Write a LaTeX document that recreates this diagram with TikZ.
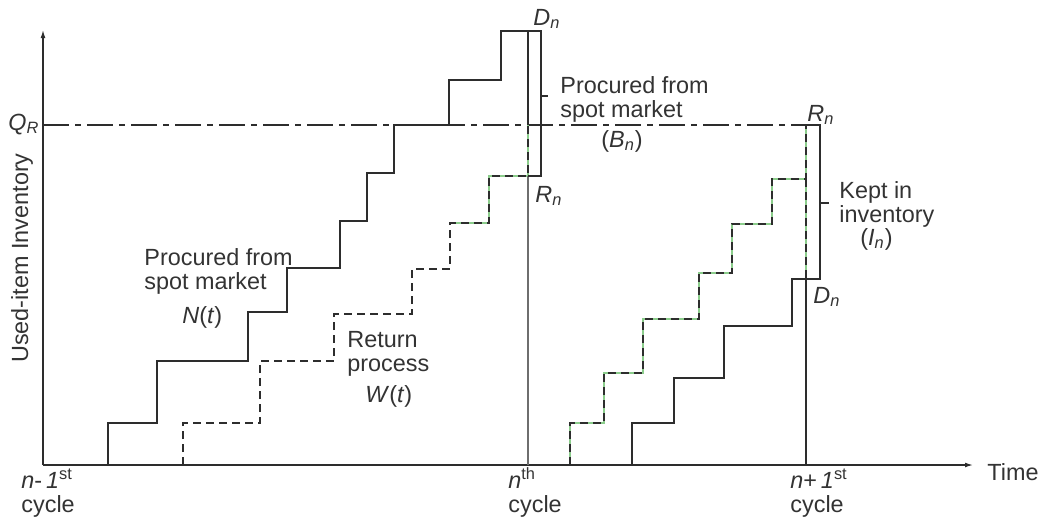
\documentclass[tikz,border=0pt]{standalone}
\usepackage{fontspec}
\setmainfont{Liberation Sans}
\usepackage{tikz}
\usetikzlibrary{arrows.meta}

\definecolor{txtgray}{RGB}{51,51,51}
\definecolor{linegray}{RGB}{45,45,45}
\definecolor{cyclegray}{RGB}{110,110,110}
\definecolor{retgreen}{RGB}{140,205,140}
\newcommand{\isub}[2]{\textit{#1}\textsubscript{\textit{#2}}}

\begin{document}
\begin{tikzpicture}[x=0.5pt,y=-0.5pt,>={Latex[length=4pt,width=2.4pt]},
    lbl/.style={text=txtgray,font=\fontsize{11.7}{12}\selectfont,inner sep=0pt,anchor=base west},
    stair/.style={draw=linegray,line width=0.6pt},
    retstair/.style={draw=linegray,line width=0.6pt,dash pattern=on 4pt off 2.5pt},
    greenback/.style={draw=retgreen,line width=0.6pt},
    qrline/.style={draw=linegray,line width=0.6pt,dash pattern=on 13pt off 3pt on 3pt off 3pt}]
          \useasboundingbox (0,0) rectangle (1043,527);
          % axes
          \coordinate (O) at (43,465);
          \coordinate (ytop) at (43,30);
          \coordinate (xend) at (973,465);
          \draw[->,linegray,line width=0.6pt] (O) -- (ytop);
          \draw[->,linegray,line width=0.6pt] (O) -- (xend);
          \node[lbl] (time) at (987,480) {Time};
          \node[lbl,rotate=90,anchor=center] (ylab) at (22,258) {Used-item Inventory};
          % reorder level
          \coordinate (qrL) at (43,125);
          \coordinate (qrR) at (806,125);
          \draw[qrline] (qrL) -- (qrR);
          \node[lbl] (qr) at (8,130) {\isub{Q}{R}};
          % cycle n-1 to n
          \draw[stair] (108,465) |- (157,423) |- (248,361) |- (287,312) |- (340,268)
            |- (367,221) |- (394,173) |- (449,125) |- (501,80) |- (528,31) -- (528,125);
          \draw[greenback] (450,223) -- (489,223) |- (528,176) -- (528,125);
          \draw[retstair] (183,465) |- (260,423) |- (334,361) |- (412,314) |- (450,269)
            |- (489,223) |- (528,176) -- (528,125);
          \coordinate (nth) at (528,465);
          \draw[cyclegray,line width=0.6pt] (528,176) -- (nth);
          \draw[linegray,line width=0.6pt] (528,31) -- (541,31) -- (541,176) -- (528,176)
            (541,96) -- (548,96);
          \node[lbl] (dtop) at (533,25) {\isub{D}{n}};
          \node[lbl,align=left] (procB) at (560,117) {Procured from\\spot market};
          \node[lbl] (bn) at (601,147) {(\isub{B}{n})};
          \node[lbl] (rleft) at (535,202) {\isub{R}{n}};
          \node[lbl,align=left] (procN) at (144,289) {Procured from\\spot market};
          \node[lbl] (nt) at (182,323) {\textit{N}(\textit{t})};
          \node[lbl,align=left] (ret) at (347,371) {Return\\process};
          \node[lbl] (wt) at (365,402) {\textit{W}(\textit{t})};
          % cycle n to n+1
          \draw[greenback] (570,465) |- (604,423) |- (643,373) |- (699,319) |- (732,273)
            |- (772,224) |- (806,179) -- (806,125) (806,179) -- (806,279);
          \draw[retstair] (570,465) |- (604,423) |- (643,373) |- (699,319) |- (732,273)
            |- (772,224) |- (806,179) -- (806,125);
          \draw[retstair] (806,179) -- (806,279);
          \draw[stair] (632,465) |- (674,423) |- (724,378) |- (792,326) |- (806,279);
          \coordinate (nnext) at (806,465);
          \draw[linegray,line width=0.6pt] (806,279) -- (nnext);
          \draw[linegray,line width=0.6pt] (806,125) -- (820,125) -- (820,279) -- (806,279)
            (820,203) -- (829,203);
          \node[lbl] (rright) at (807,121) {\isub{R}{n}};
          \node[lbl,align=left] (kept) at (839,222) {Kept in\\inventory};
          \node[lbl] (in) at (860,245) {(\isub{I}{n})};
          \node[lbl] (dbot) at (813,303) {\isub{D}{n}};
          % cycle labels
          \node[lbl,align=left] (c1) at (21,512) {\textit{n}-\,\textit{1}\textsuperscript{st}\\cycle};
          \node[lbl,align=left] (c2) at (508,512) {\textit{n}\textsuperscript{th}\\cycle};
          \node[lbl,align=left] (c3) at (790,512) {\textit{n}+\,\textit{1}\textsuperscript{st}\\cycle};
        \end{tikzpicture}
\end{document}
